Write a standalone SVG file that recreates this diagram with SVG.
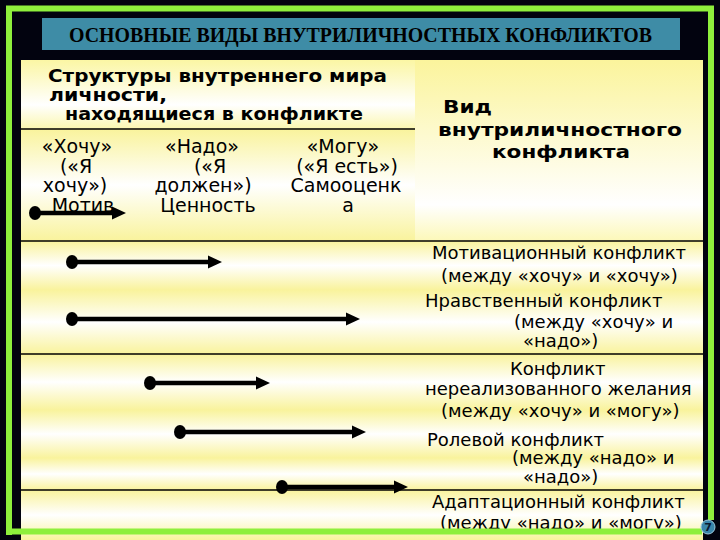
<svg xmlns="http://www.w3.org/2000/svg" width="720" height="540" viewBox="0 0 720 540">
<defs>
<linearGradient id="band" x1="0" y1="0" x2="0" y2="1">
<stop offset="0" stop-color="#F9F39C"/>
<stop offset="0.5" stop-color="#FFFFFF"/>
<stop offset="1" stop-color="#F9F39C"/>
</linearGradient>
<linearGradient id="bandTop" x1="0" y1="0" x2="0" y2="1">
<stop offset="0" stop-color="#FBF6A4"/>
<stop offset="0.65" stop-color="#FFFFFF"/>
<stop offset="1" stop-color="#FBF7B0"/>
</linearGradient>
<linearGradient id="bandRight" x1="0" y1="0" x2="0" y2="1">
<stop offset="0" stop-color="#FBF49C"/>
<stop offset="0.8" stop-color="#FFFFFF"/>
<stop offset="1" stop-color="#FCF8B8"/>
</linearGradient>
<marker id="dot" markerUnits="userSpaceOnUse" markerWidth="14" markerHeight="16" refX="7" refY="8" orient="auto">
<ellipse cx="7" cy="8" rx="6" ry="7" fill="#000"/>
</marker>
<marker id="head" markerUnits="userSpaceOnUse" markerWidth="15" markerHeight="14" refX="0" refY="7" orient="auto">
<path d="M0,0.5 L14,7 L0,13.5 z" fill="#000"/>
</marker>
</defs>
<style>
.hb{font-family:"DejaVu Sans","Noto Sans",sans-serif;font-weight:bold;font-size:18px;fill:#000}
.col{font-family:"DejaVu Sans","Noto Sans",sans-serif;font-size:19px;fill:#000;text-anchor:middle}
.lab{font-family:"DejaVu Sans","Noto Sans",sans-serif;font-size:18px;fill:#000}
.rule{stroke:#000;stroke-width:1.5}
.arr{stroke:#000;stroke-width:4.5;fill:none;marker-start:url(#dot);marker-end:url(#head)}
.frame{stroke:#8EEF3C;stroke-width:6;fill:none}
</style>
<rect x="0" y="0" width="720" height="540" fill="#02030f"/>

<g id="title">
<rect x="42" y="18" width="638" height="32" fill="#3E8CA6"/>
<text x="69" y="42" textLength="583" lengthAdjust="spacingAndGlyphs" font-family="Liberation Serif, serif" font-weight="bold" font-size="20" fill="#000">ОСНОВНЫЕ ВИДЫ ВНУТРИЛИЧНОСТНЫХ КОНФЛИКТОВ</text>
</g>

<g id="backgrounds">
<rect x="21" y="60" width="394" height="69" fill="url(#bandTop)"/>
<rect x="21" y="129" width="394" height="112" fill="url(#band)"/>
<rect x="415" y="60" width="288" height="181" fill="url(#bandRight)"/>
<rect x="21" y="241" width="682" height="49" fill="url(#band)"/>
<rect x="21" y="290" width="682" height="64" fill="url(#band)"/>
<rect x="21" y="354" width="682" height="56" fill="url(#band)"/>
<rect x="21" y="410" width="682" height="48" fill="url(#band)"/>
<rect x="21" y="458" width="682" height="32" fill="url(#band)"/>
<rect x="21" y="490" width="682" height="50" fill="url(#band)"/>
</g>

<g id="rules">
<line class="rule" x1="21" y1="129" x2="415" y2="129"/>
<line class="rule" x1="21" y1="241" x2="703" y2="241"/>
<line class="rule" x1="21" y1="354" x2="703" y2="354"/>
<line class="rule" x1="21" y1="490" x2="703" y2="490"/>
</g>

<g id="header-structures">
<text class="hb" x="48" y="82" textLength="339" lengthAdjust="spacingAndGlyphs">Структуры внутреннего мира</text>
<text class="hb" x="49" y="101" textLength="118" lengthAdjust="spacingAndGlyphs">личности,</text>
<text class="hb" x="65" y="120" textLength="298" lengthAdjust="spacingAndGlyphs">находящиеся в конфликте</text>
</g>

<g id="header-type">
<text class="hb" x="443" y="113" font-size="20" textLength="49" lengthAdjust="spacingAndGlyphs">Вид</text>
<text class="hb" x="438" y="136" font-size="20" textLength="244" lengthAdjust="spacingAndGlyphs">внутриличностного</text>
<text class="hb" x="492" y="158" font-size="20" textLength="138" lengthAdjust="spacingAndGlyphs">конфликта</text>
</g>

<g id="col-want">
<text class="col" x="77" y="153">«Хочу»</text>
<text class="col" x="76" y="173">(«Я</text>
<text class="col" x="75" y="192">хочу»)</text>
<text class="col" x="83" y="212">Мотив</text>
</g>

<g id="col-must">
<text class="col" x="202" y="153">«Надо»</text>
<text class="col" x="210" y="173">(«Я</text>
<text class="col" x="203" y="192">должен»)</text>
<text class="col" x="208" y="212">Ценность</text>
</g>

<g id="col-can">
<text class="col" x="343" y="153">«Могу»</text>
<text class="col" x="347" y="173">(«Я есть»)</text>
<text class="col" x="346" y="192">Самооценк</text>
<text class="col" x="348" y="212">а</text>
</g>

<g id="label-motivational">
<text class="lab" x="432" y="259">Мотивационный конфликт</text>
<text class="lab" x="441" y="282">(между «хочу» и «хочу»)</text>
</g>
<g id="label-moral">
<text class="lab" x="425" y="307">Нравственный конфликт</text>
<text class="lab" x="514" y="328">(между «хочу» и</text>
<text class="lab" x="523" y="347">«надо»)</text>
</g>
<g id="label-unrealized">
<text class="lab" x="510" y="375">Конфликт</text>
<text class="lab" x="425" y="395">нереализованного желания</text>
<text class="lab" x="441" y="417">(между «хочу» и «могу»)</text>
</g>
<g id="label-role">
<text class="lab" x="427" y="446">Ролевой конфликт</text>
<text class="lab" x="512" y="464">(между «надо» и</text>
<text class="lab" x="523" y="483">«надо»)</text>
</g>
<g id="label-adaptation">
<text class="lab" x="432" y="508">Адаптационный конфликт</text>
<text class="lab" x="440" y="529">(между «надо» и «могу»)</text>
</g>

<g id="connectors">
<line class="arr" x1="35" y1="213" x2="112" y2="213"/>
<line class="arr" x1="72" y1="262" x2="208" y2="262"/>
<line class="arr" x1="72" y1="319" x2="346" y2="319"/>
<line class="arr" x1="150" y1="383" x2="256" y2="383"/>
<line class="arr" x1="180" y1="432" x2="352" y2="432"/>
<line class="arr" x1="282" y1="487" x2="394" y2="487"/>
</g>

<g id="frame">
<line class="frame" x1="9" y1="6" x2="9" y2="535"/>
<line class="frame" x1="6" y1="8.5" x2="714" y2="8.5"/>
<line class="frame" x1="711" y1="6" x2="711" y2="520"/>
<line class="frame" x1="6" y1="531.5" x2="702" y2="531.5"/>
</g>

<g id="page-badge">
<circle cx="708" cy="527" r="7" fill="#3A86AB" stroke="#9CC8DC" stroke-width="1"/>
<text x="708" y="531" text-anchor="middle" font-family="DejaVu Sans, sans-serif" font-weight="bold" font-size="11" fill="#0A1A30">7</text>
</g>
</svg>
